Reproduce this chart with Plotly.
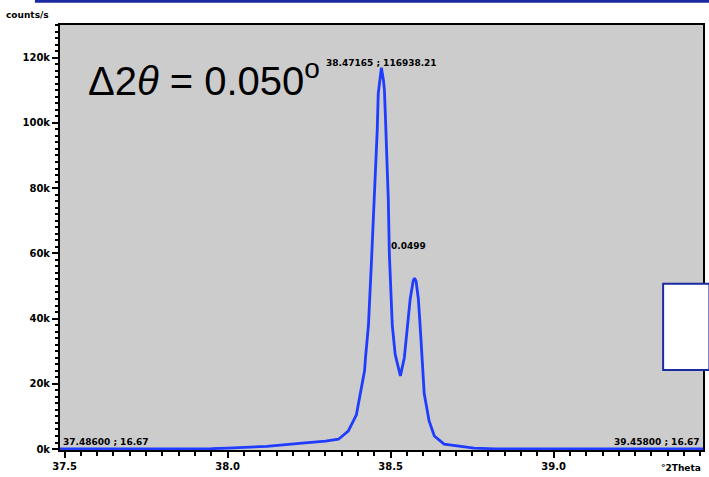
import plotly.graph_objects as go

# 2theta (deg) and intensity (counts/s)
two_theta = [37.486, 37.80, 37.95, 38.00, 38.12, 38.22, 38.30, 38.34, 38.37, 38.395,
             38.41, 38.42, 38.423, 38.432, 38.441, 38.447, 38.453, 38.459, 38.462, 38.4717,
             38.478, 38.481, 38.484, 38.490, 38.493, 38.496, 38.499, 38.505, 38.514, 38.527,
             38.530, 38.542, 38.551, 38.560, 38.569, 38.573, 38.578, 38.585, 38.591, 38.597,
             38.603, 38.618, 38.634, 38.664, 38.704, 38.756, 38.82, 39.0, 39.458]
counts = [16.67, 20, 100, 300, 800, 1700, 2400, 3000, 5500, 10500,
          18000, 24000, 28000, 38000, 57000, 70000, 84000, 98000, 109000, 116938.21,
          113000, 110000, 102000, 88000, 76000, 60000, 51000, 38000, 29000, 23200,
          22400, 28000, 37000, 46000, 51500, 52400, 51500, 46000, 37000, 27000,
          17000, 8600, 4000, 1500, 900, 300, 50, 20, 16.67]

y_tickvals = [0, 20000, 40000, 60000, 80000, 100000, 120000]
y_ticktext = ["0k", "20k", "40k", "60k", "80k", "100k", "120k"]
x_tickvals = [37.5, 38.0, 38.5, 39.0]
x_ticktext = ["37.5", "38.0", "38.5", "39.0"]

peak_label = "38.47165 ; 116938.21"
split_label = "0.0499"
left_label = "37.48600 ; 16.67"
right_label = "39.45800 ; 16.67"
delta_text = "Δ2<i>θ</i> = 0.050<sup>o</sup>"

fig = go.Figure()
fig.add_trace(go.Scatter(x=two_theta, y=counts, mode="lines",
                         line=dict(color="#1f3cff", width=2.8), showlegend=False))

tickfont = dict(family="DejaVu Sans", size=10, color="black", weight="bold")
fig.update_layout(
    width=709, height=477,
    margin=dict(l=60, r=4, t=25, b=27),
    paper_bgcolor="white", plot_bgcolor="#cccccc",
    xaxis=dict(range=[37.486, 39.458], tickvals=x_tickvals, ticktext=x_ticktext,
               ticks="outside", ticklen=6, tickwidth=1.5, tickcolor="black",
               minor=dict(dtick=0.05, tick0=37.5, ticks="outside", ticklen=4, tickcolor="black"),
               showgrid=False, zeroline=False, showline=True, linecolor="black",
               linewidth=2, mirror=True, tickfont=tickfont),
    yaxis=dict(range=[-300, 130000], tickvals=y_tickvals, ticktext=y_ticktext,
               ticks="outside", ticklen=6, tickwidth=1.5, tickcolor="black",
               minor=dict(dtick=2000, tick0=0, ticks="outside", ticklen=3, tickcolor="black"),
               showgrid=False, zeroline=False, showline=True, linecolor="black",
               linewidth=2, mirror=True, tickfont=tickfont),
)

smallfont = dict(family="DejaVu Sans", size=9, color="black", weight="bold")
fig.add_annotation(x=38.47165, y=116938.21, text=peak_label, showarrow=False,
                   yanchor="bottom", yshift=-2, font=smallfont)
fig.add_annotation(x=38.5, y=60000, text=split_label, showarrow=False, xanchor="left",
                   yanchor="bottom", xshift=-2, font=smallfont)
fig.add_annotation(x=37.49, y=0, text=left_label, showarrow=False, xanchor="left",
                   yanchor="bottom", yshift=0, font=smallfont)
fig.add_annotation(x=39.455, y=0, text=right_label, showarrow=False, xanchor="right",
                   yanchor="bottom", yshift=0, font=smallfont)
fig.add_annotation(xref="paper", yref="paper", x=0.04, y=0.875, text=delta_text,
                   showarrow=False, xanchor="left", yanchor="middle",
                   font=dict(family="Liberation Sans", size=40, color="black"))
fig.add_annotation(xref="paper", yref="paper", x=-0.087, y=1.024, text="counts/s",
                   showarrow=False, xanchor="left", yanchor="middle", font=smallfont)
fig.add_annotation(xref="paper", yref="paper", x=1.0, y=-0.043, text="°2Theta",
                   showarrow=False, xanchor="right", yanchor="middle", font=smallfont)

# decorative slide elements
fig.add_shape(type="line", xref="paper", yref="paper", x0=-0.039, x1=1.01, y0=1.056, y1=1.056,
              line=dict(color="#1a2aa0", width=3))
fig.add_shape(type="rect", xref="paper", yref="paper", x0=0.938, x1=1.01, y0=0.188, y1=0.391,
              fillcolor="white", line=dict(color="#1a2aa0", width=2))

fig.write_html("out.html")
